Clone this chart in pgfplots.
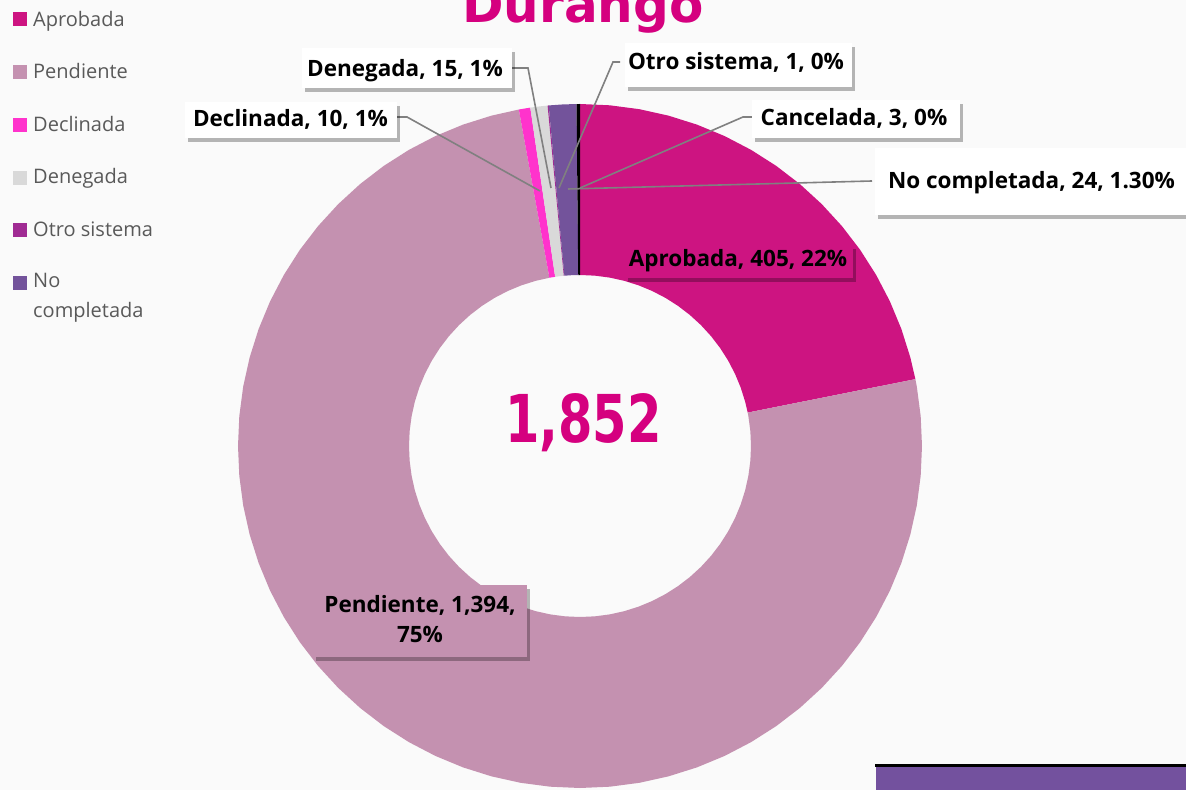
\documentclass[border=0pt]{standalone}
\usepackage{pgfplots}
\pgfplotsset{compat=1.18}
\usepgfplotslibrary{polar}
\usetikzlibrary{shadows}
\usepackage{fontspec}
\setmainfont{Open Sans}
\newfontfamily\heavy{DejaVu Sans}
\definecolor{aprob}{HTML}{CD1481}
\definecolor{pend}{HTML}{C491B0}
\definecolor{decl}{HTML}{FF33CC}
\definecolor{deneg}{HTML}{D9D9D9}
\definecolor{otro}{HTML}{A02B93}
\definecolor{nocomp}{HTML}{73539B}
\definecolor{titlec}{HTML}{D5007F}
\definecolor{bgc}{HTML}{FAFAFA}
\definecolor{legtxt}{HTML}{595959}
\definecolor{leader}{HTML}{808080}
\definecolor{barp}{HTML}{73519E}
\begin{document}
\begin{tikzpicture}[x=1pt,y=1pt,
  shad/.style={drop shadow={shadow xshift=3pt,shadow yshift=-4pt,fill=black,opacity=0.28}},
  lab/.style={font=\fontsize{22.5}{26}\selectfont\bfseries,text=black,inner sep=0pt},
  leg/.style={font=\fontsize{20}{24}\selectfont,text=legtxt,inner sep=0pt,anchor=base west}]
\fill[bgc] (0,0) rectangle (1186,790);
\clip (0,0) rectangle (1186,790);
% title (cropped at the top, as in the reference)
\node[anchor=base,text=titlec,inner sep=0pt] at (583,767) {\heavy\bfseries\fontsize{50}{50}\selectfont Durango};
% bottom right bar
\fill[barp] (876,0) rectangle (1186,23);
\fill[black] (875,23) rectangle (1186,26);
\begin{polaraxis}[at={(580pt,344pt)},anchor=center,scale only axis,
  width=684pt,height=684pt,xmin=0,xmax=360,ymin=0,ymax=1,
  hide axis,clip=false]
% Aprobada 405
\addplot[fill=aprob,draw=none] coordinates {
(90,1) (85,1) (80,1) (75,1) (70,1) (65,1) (60,1) (55,1) (50,1) (45,1) (40,1) (35,1) (30,1) (25,1) (20,1) (15,1) (11.2744,1)
(11.2744,0.5) (15,0.5) (20,0.5) (25,0.5) (30,0.5) (35,0.5) (40,0.5) (45,0.5) (50,0.5) (55,0.5) (60,0.5) (65,0.5) (70,0.5) (75,0.5) (80,0.5) (85,0.5) (90,0.5)};
% Pendiente 1394
\addplot[fill=pend,draw=none] coordinates {
(11.2744,1) (10,1) (5,1) (0,1) (-5,1) (-10,1) (-15,1) (-20,1) (-25,1) (-30,1) (-35,1) (-40,1) (-45,1) (-50,1) (-55,1) (-60,1) (-65,1) (-70,1) (-75,1) (-80,1) (-85,1) (-90,1) (-95,1) (-100,1) (-105,1) (-110,1) (-115,1) (-120,1) (-125,1) (-130,1) (-135,1) (-140,1) (-145,1) (-150,1) (-155,1) (-160,1) (-165,1) (-170,1) (-175,1) (-180,1) (-185,1) (-190,1) (-195,1) (-200,1) (-205,1) (-210,1) (-215,1) (-220,1) (-225,1) (-230,1) (-235,1) (-240,1) (-245,1) (-250,1) (-255,1) (-259.6976,1)
(-259.6976,0.5) (-255,0.5) (-250,0.5) (-245,0.5) (-240,0.5) (-235,0.5) (-230,0.5) (-225,0.5) (-220,0.5) (-215,0.5) (-210,0.5) (-205,0.5) (-200,0.5) (-195,0.5) (-190,0.5) (-185,0.5) (-180,0.5) (-175,0.5) (-170,0.5) (-165,0.5) (-160,0.5) (-155,0.5) (-150,0.5) (-145,0.5) (-140,0.5) (-135,0.5) (-130,0.5) (-125,0.5) (-120,0.5) (-115,0.5) (-110,0.5) (-105,0.5) (-100,0.5) (-95,0.5) (-90,0.5) (-85,0.5) (-80,0.5) (-75,0.5) (-70,0.5) (-65,0.5) (-60,0.5) (-55,0.5) (-50,0.5) (-45,0.5) (-40,0.5) (-35,0.5) (-30,0.5) (-25,0.5) (-20,0.5) (-15,0.5) (-10,0.5) (-5,0.5) (0,0.5) (5,0.5) (10,0.5) (11.2744,0.5)};
% Declinada 10
\addplot[fill=decl,draw=none] coordinates {
(100.3024,1) (99.3305,1) (98.3586,1) (98.3586,0.5) (99.3305,0.5) (100.3024,0.5)};
% Denegada 15
\addplot[fill=deneg,draw=none] coordinates {
(98.3586,1) (96.9007,1) (95.4428,1) (95.4428,0.5) (96.9007,0.5) (98.3586,0.5)};
% Otro sistema 1
\addplot[fill=otro,draw=none] coordinates {
(95.4428,1) (95.2484,1) (95.2484,0.5) (95.4428,0.5)};
% No completada 24
\addplot[fill=nocomp,draw=none] coordinates {
(95.2484,1) (92.9158,1) (90.5832,1) (90.5832,0.5) (92.9158,0.5) (95.2484,0.5)};
% Cancelada 3
\addplot[fill=black,draw=none] coordinates {
(90.5832,1) (90,1) (90,0.5) (90.5832,0.5)};
\end{polaraxis}
% center total
\node[anchor=base,text=titlec,inner sep=0pt] at (583.5,347) {\scalebox{0.75}[1]{\heavy\bfseries\fontsize{66}{66}\selectfont 1,852}};
% leader lines
\draw[leader,line width=1.6pt] (512,722) -- (528,722) -- (551,602);
\draw[leader,line width=1.6pt] (620,728) -- (613,728) -- (559,602);
\draw[leader,line width=1.6pt] (397,673) -- (407,673) -- (540,599);
\draw[leader,line width=1.6pt] (752,673) -- (743,673) -- (580,602);
\draw[leader,line width=1.6pt] (872,609) -- (568,601);
% label boxes
\fill[white,shad] (302,702) rectangle (512,742);
\node[lab,anchor=base] at (405,713) {Denegada, 15, 1\%};
\fill[white,shad] (625,703) rectangle (852,747);
\node[lab,anchor=base] at (736,720) {Otro sistema, 1, 0\%};
\fill[white,shad] (185,652) rectangle (397,688);
\node[lab,anchor=base] at (290.5,663) {Declinada, 10, 1\%};
\fill[white,shad] (752,652) rectangle (960,690);
\node[lab,anchor=base] at (854,664) {Cancelada, 3, 0\%};
\fill[white,shad] (875,575) rectangle (1200,642);
\node[lab,anchor=base] at (1031.5,601) {No completada, 24, 1.30\%};
\fill[aprob,shad] (625,512) rectangle (853,545);
\node[lab,anchor=base] at (738,523) {Aprobada, 405, 22\%};
\fill[pend,shad] (313,133) rectangle (527,205);
\node[lab,anchor=base] at (420,177) {Pendiente, 1,394,};
\node[lab,anchor=base] at (420,147) {75\%};
% legend
\fill[aprob]  (13,764) rectangle (27,778);
\node[leg] at (33,763) {Aprobada};
\fill[pend]   (13,711) rectangle (27,725);
\node[leg] at (33,711) {Pendiente};
\fill[decl]   (13,657.5) rectangle (27,671.5);
\node[leg] at (33,658) {Declinada};
\fill[deneg]  (13,605) rectangle (27,619);
\node[leg] at (33,606) {Denegada};
\fill[otro]   (13,552.5) rectangle (27,566.5);
\node[leg] at (33,553) {Otro sistema};
\fill[nocomp] (13,500) rectangle (27,514);
\node[leg] at (33,502) {No};
\node[leg] at (33,472) {completada};
\end{tikzpicture}
\end{document}
